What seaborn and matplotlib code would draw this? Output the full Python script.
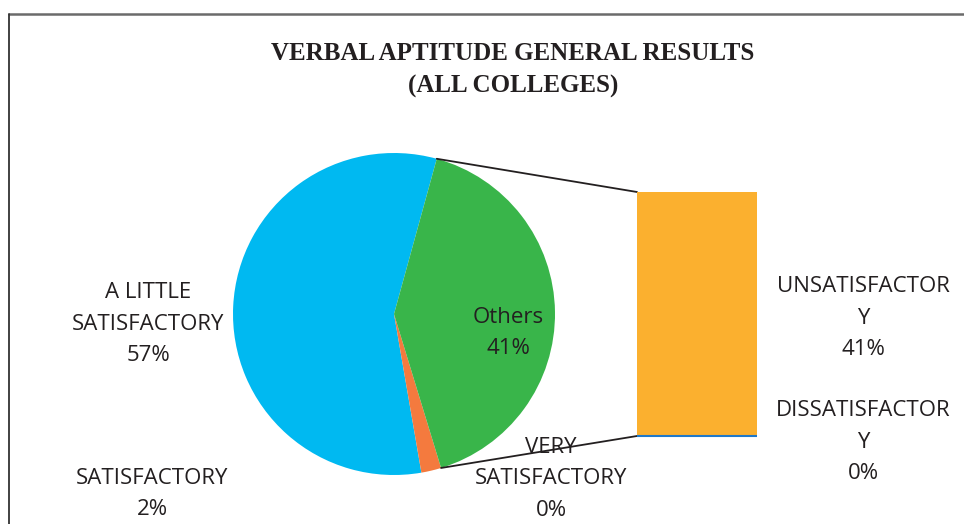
import matplotlib
matplotlib.use("Agg")
import matplotlib.pyplot as plt
import seaborn as sns
from matplotlib.patches import ConnectionPatch
from matplotlib.lines import Line2D
import numpy as np

# pie part
pie_labels = ["A LITTLE\nSATISFACTORY", "SATISFACTORY", "VERY\nSATISFACTORY", "Others"]
pie_values = [57, 2, 0, 41]
pie_colors = ["#00B9F1", "#F47A3E", "#1F6FB5", "#39B54A"]

# bar part (breakdown of "Others")
bar_labels = ["DISSATISFACTOR\nY", "UNSATISFACTOR\nY"]
bar_values = [0, 41]
bar_colors = ["#1F78C8", "#FBB02F"]

title = "VERBAL APTITUDE GENERAL RESULTS\n(ALL COLLEGES)"

sns.set_theme(style="white")
plt.rcParams["font.family"] = ["Open Sans", "DejaVu Sans"]

W, H = 964, 524
fig = plt.figure(figsize=(W / 100, H / 100), dpi=100)


def px(x, y):
    return x / W, 1 - y / H


# pie axes: centre (394, 314), radius 161 px
cx, cy, r = 394, 314, 161
ax_pie = fig.add_axes([(cx - r) / W, (H - cy - r) / H, 2 * r / W, 2 * r / H])
start = 74.6
wedges, _ = ax_pie.pie(pie_values, colors=pie_colors, startangle=start,
                       counterclock=True, radius=1,
                       wedgeprops=dict(linewidth=0))
ax_pie.set_xlim(-1, 1)
ax_pie.set_ylim(-1, 1)
ax_pie.set_aspect("equal")
ax_pie.axis("off")

# bar axes: x 637-757, y 192-436
ax_bar = fig.add_axes([637 / W, (H - 436) / H, 120 / W, 244 / H])
ax_bar.set_zorder(5)
bottom = 0
for lab, val, col in zip(bar_labels, bar_values, bar_colors):
    if val == 0:
        ax_bar.plot([-0.5, 0.5], [bottom, bottom], color=col, lw=1.5,
                    solid_capstyle="butt", zorder=3, clip_on=False)
    else:
        ax_bar.bar(0, val, bottom=bottom, width=1, color=col, linewidth=0)
    bottom += val
ax_bar.set_xlim(-0.5, 0.5)
ax_bar.set_ylim(0, sum(bar_values))
ax_bar.axis("off")

# connector lines
t_top = np.deg2rad(wedges[0].theta1)
t_bot = np.deg2rad(wedges[-1].theta1)
for t, yb in [(t_top, sum(bar_values)), (t_bot, 0)]:
    con = ConnectionPatch(xyA=(np.cos(t), np.sin(t)), coordsA=ax_pie.transData,
                          xyB=(-0.5, yb), coordsB=ax_bar.transData,
                          color="#231F20", lw=1.3, zorder=1)
    fig.add_artist(con)

# labels
fs = 16
txt = dict(ha="center", va="center", fontsize=fs, color="#231F20",
           linespacing=1.67, zorder=10)
pie_pos = [(148, 324), (152, 494), (551, 479), (508, 333)]
for lab, val, (x, y) in zip(pie_labels, pie_values, pie_pos):
    fig.text(*px(x, y), f"{lab}\n{val}%", **txt)
bar_pos = [(863, 442), (863, 318)]
for lab, val, (x, y) in zip(bar_labels, bar_values, bar_pos):
    fig.text(*px(x, y), f"{lab}\n{val}%", **txt)

fig.text(*px(513, 70), title, ha="center", va="center", fontsize=18,
         fontweight="bold", family=["Liberation Serif", "DejaVu Serif"],
         color="#231F20", linespacing=1.48)

# frame
fig.add_artist(Line2D([9 / W, 1], [1 - 14 / H] * 2, color="#6B6B6B", lw=1.8))
fig.add_artist(Line2D([9 / W] * 2, [1 - 14 / H, 0], color="#333333", lw=1.3))

fig.savefig("out.png", dpi=100)
